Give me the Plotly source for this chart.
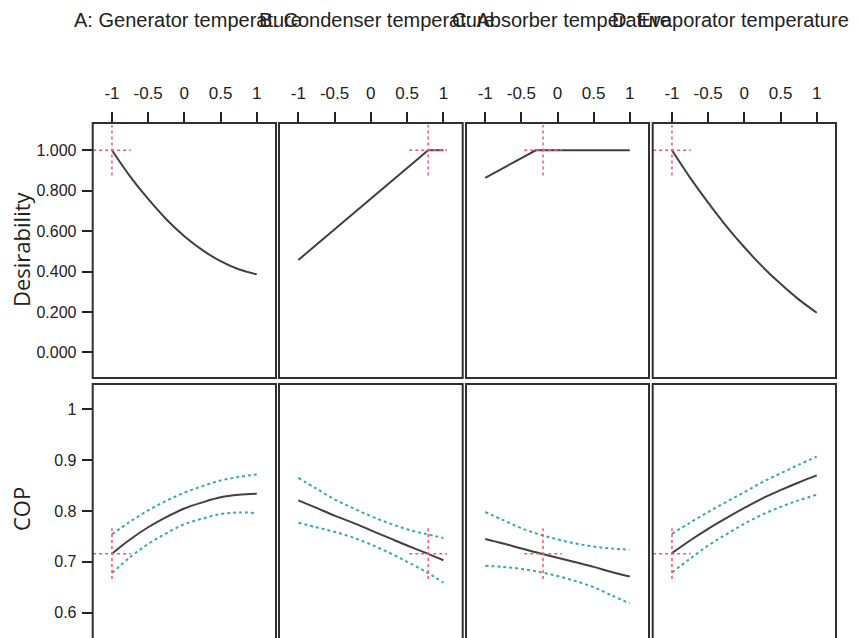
import plotly.graph_objects as go

# ---- data -------------------------------------------------------------
factor_titles = ["A: Generator temperature", "B: Condenser temperature",
                 "C: Absorber temperature", "D: Evaporator temperature"]

coded_x = [-1, -0.75, -0.5, -0.25, 0, 0.25, 0.5, 0.75, 1]

# predicted COP and its confidence band, one list per factor
cop_mean = [
    [0.716, 0.744, 0.768, 0.788, 0.805, 0.817, 0.827, 0.832, 0.834],
    [0.821, 0.806, 0.791, 0.777, 0.762, 0.747, 0.732, 0.718, 0.703],
    [0.745, 0.736, 0.726, 0.717, 0.708, 0.699, 0.690, 0.680, 0.671],
    [0.717, 0.742, 0.765, 0.786, 0.806, 0.825, 0.841, 0.856, 0.870],
]
cop_upper = [
    [0.754, 0.779, 0.801, 0.820, 0.836, 0.849, 0.860, 0.867, 0.872],
    [0.865, 0.844, 0.823, 0.806, 0.790, 0.776, 0.764, 0.755, 0.747],
    [0.798, 0.782, 0.766, 0.754, 0.744, 0.736, 0.730, 0.726, 0.724],
    [0.755, 0.777, 0.798, 0.818, 0.837, 0.857, 0.874, 0.891, 0.907],
]
cop_lower = [
    [0.678, 0.709, 0.735, 0.756, 0.774, 0.785, 0.794, 0.797, 0.796],
    [0.777, 0.768, 0.759, 0.748, 0.734, 0.718, 0.700, 0.681, 0.659],
    [0.692, 0.690, 0.686, 0.680, 0.672, 0.662, 0.650, 0.634, 0.618],
    [0.679, 0.706, 0.732, 0.754, 0.775, 0.793, 0.808, 0.821, 0.832],
]

# desirability traces, one list per factor
desir_x = [
    coded_x,
    [-1, -0.5, 0, 0.5, 0.79, 1],
    [-1, -0.5, -0.3, 0, 0.5, 1],
    coded_x,
]
desir_y = [
    [1.0, 0.871, 0.759, 0.659, 0.575, 0.506, 0.451, 0.411, 0.386],
    [0.457, 0.609, 0.761, 0.912, 1.0, 1.0],
    [0.864, 0.961, 1.0, 1.0, 1.0, 1.0],
    [1.0, 0.865, 0.741, 0.625, 0.52, 0.424, 0.339, 0.262, 0.196],
]
desir_shape = ["spline", "linear", "linear", "spline"]

# optimum factor settings and predicted response
setting = [-1.0, 0.79, -0.2, -1.0]
cop_at_setting = 0.716
desir_at_setting = 1.0

x_ticks = [-1, -0.5, 0, 0.5, 1]
x_ticktext = ["-1", "-0.5", "0", "0.5", "1"]
desir_ticks = [0, 0.2, 0.4, 0.6, 0.8, 1.0]
cop_ticks = [0.6, 0.7, 0.8, 0.9, 1.0]
cop_ticktext = ["0.6", "0.7", "0.8", "0.9", "1"]

# ---- styling ------------------------------------------------------------
W, H = 859, 638
col_px = [(92.7, 276.0), (279.0, 462.7), (466.0, 649.0), (652.7, 836.0)]
title_cx = [188, 377, 561, 730]
top_px = (123.0, 378.0)
bot_px = (384.0, 638.0)

MEAN_C = "#404040"
CI_C = "#3aa9ad"
CROSS_C = "#ee5a6a"
BORDER_C = "#303030"
TEXT_C = "#222"
SANS = "Liberation Sans, Arial, sans-serif"
ROUND = "Open Sans, Noto Sans, sans-serif"

X_RANGE = [-1.266, 1.266]
DESIR_RANGE = [-0.127, 1.135]
COP_RANGE = [0.55, 1.05]

ARM_X = 0.26
ARM_D = 0.125
ARM_COP = 0.05


def py(px):
    return 1 - px / H


fig = go.Figure()
layout = dict(
    width=W, height=H,
    margin=dict(l=0, r=0, t=0, b=0),
    paper_bgcolor="white", plot_bgcolor="white",
    showlegend=False,
)
shapes = []
annotations = []

for i in range(4):
    x0, x1 = col_px[i]
    dom_x = [x0 / W, x1 / W]
    for row in range(2):
        idx = i + 1 + 4 * row
        xa = "x" if idx == 1 else f"x{idx}"
        ya = "y" if idx == 1 else f"y{idx}"
        xkey = "xaxis" if idx == 1 else f"xaxis{idx}"
        ykey = "yaxis" if idx == 1 else f"yaxis{idx}"
        if row == 0:
            dom_y = [py(top_px[1]), py(top_px[0])]
        else:
            dom_y = [0.0, py(bot_px[0])]

        xaxis = dict(domain=dom_x, range=X_RANGE, anchor=ya,
                     showgrid=False, zeroline=False, showline=False,
                     fixedrange=True)
        if row == 0:
            xaxis.update(side="top", ticks="outside", ticklen=10,
                         tickwidth=1.5, tickcolor=TEXT_C,
                         tickvals=x_ticks, ticktext=x_ticktext,
                         tickfont=dict(family=SANS, size=17, color=TEXT_C),
                         ticklabelstandoff=6)
        else:
            xaxis.update(showticklabels=False, ticks="")
        layout[xkey] = xaxis

        yaxis = dict(domain=dom_y, anchor=xa, showgrid=False,
                     zeroline=False, showline=False, fixedrange=True,
                     range=DESIR_RANGE if row == 0 else COP_RANGE)
        if i == 0:
            yaxis.update(ticks="outside", ticklen=10, tickwidth=1.5,
                         tickcolor=TEXT_C,
                         tickfont=dict(family=SANS, size=16, color=TEXT_C),
                         ticklabelstandoff=2)
            if row == 0:
                yaxis.update(tickvals=desir_ticks, tickformat=".3f")
            else:
                yaxis.update(tickvals=cop_ticks, ticktext=cop_ticktext)
        else:
            yaxis.update(showticklabels=False, ticks="")
        layout[ykey] = yaxis

        # panel frame
        if row == 0:
            y0p, y1p = py(top_px[1]), py(top_px[0])
        else:
            y0p, y1p = -0.05, py(bot_px[0])
        shapes.append(dict(type="rect", xref="paper", yref="paper",
                           x0=x0 / W, x1=x1 / W, y0=y0p, y1=y1p,
                           line=dict(color=BORDER_C, width=2),
                           fillcolor="rgba(0,0,0,0)", layer="above"))

        if row == 0:
            # desirability curve
            fig.add_trace(go.Scatter(
                x=desir_x[i], y=desir_y[i], mode="lines",
                line=dict(color=MEAN_C, width=2, shape=desir_shape[i]),
                xaxis=xa, yaxis=ya, hoverinfo="skip"))
            sx, sy, dy = setting[i], desir_at_setting, ARM_D
        else:
            for band in (cop_upper[i], cop_lower[i]):
                fig.add_trace(go.Scatter(
                    x=coded_x, y=band, mode="lines",
                    line=dict(color=CI_C, width=2, dash="dot", shape="spline"),
                    xaxis=xa, yaxis=ya, hoverinfo="skip"))
            fig.add_trace(go.Scatter(
                x=coded_x, y=cop_mean[i], mode="lines",
                line=dict(color=MEAN_C, width=2, shape="spline"),
                xaxis=xa, yaxis=ya, hoverinfo="skip"))
            sx, sy, dy = setting[i], cop_at_setting, ARM_COP

        # crosshair at the optimum setting
        fig.add_trace(go.Scatter(
            x=[sx - ARM_X, sx + ARM_X, None, sx, sx],
            y=[sy, sy, None, sy - dy, sy + dy],
            mode="lines", line=dict(color=CROSS_C, width=1.5, dash="dot"),
            xaxis=xa, yaxis=ya, hoverinfo="skip", connectgaps=False))

    # factor title
    annotations.append(dict(
        text=factor_titles[i], xref="paper", yref="paper",
        x=title_cx[i] / W, y=py(20), xanchor="center", yanchor="middle",
        showarrow=False, font=dict(family=SANS, size=20, color=TEXT_C)))

annotations.append(dict(
    text="Desirability", xref="paper", yref="paper",
    x=21 / W, y=py(249), textangle=-90, xanchor="center", yanchor="middle",
    showarrow=False, font=dict(family=ROUND, size=22, color=TEXT_C)))
annotations.append(dict(
    text="COP", xref="paper", yref="paper",
    x=21 / W, y=py(509), textangle=-90, xanchor="center", yanchor="middle",
    showarrow=False, font=dict(family=ROUND, size=22, color=TEXT_C)))

layout["shapes"] = shapes
layout["annotations"] = annotations
fig.update_layout(**layout)

fig.write_html("out.html")
